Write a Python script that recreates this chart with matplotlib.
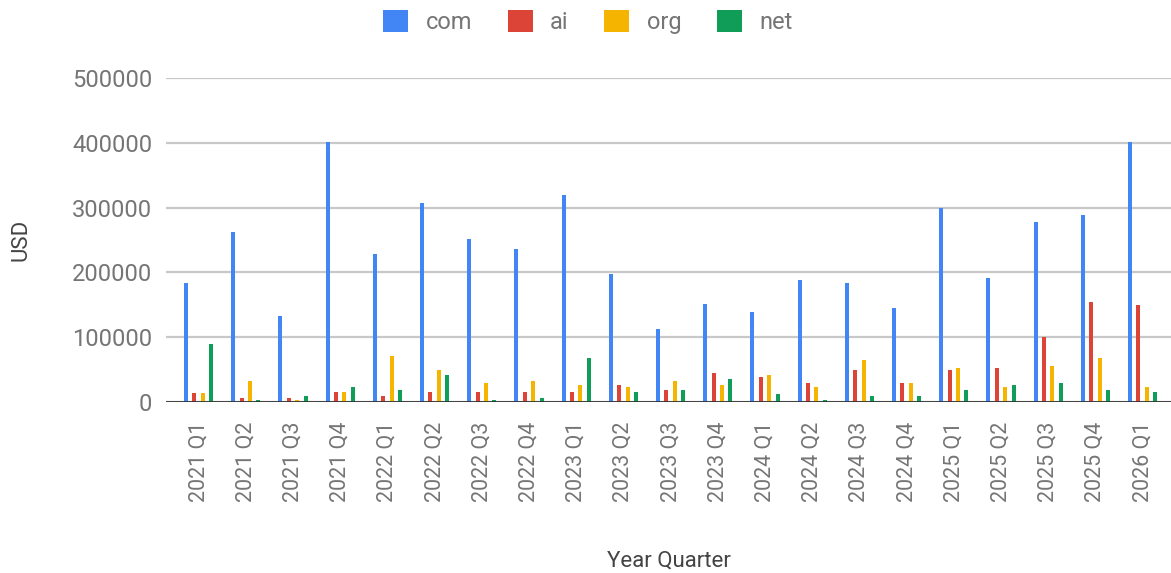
import numpy as np
import matplotlib.pyplot as plt
from matplotlib.patches import Patch

plt.rcParams['font.family'] = ['Roboto', 'DejaVu Sans']

quarters = ['2021 Q1', '2021 Q2', '2021 Q3', '2021 Q4',
            '2022 Q1', '2022 Q2', '2022 Q3', '2022 Q4',
            '2023 Q1', '2023 Q2', '2023 Q3', '2023 Q4',
            '2024 Q1', '2024 Q2', '2024 Q3', '2024 Q4',
            '2025 Q1', '2025 Q2', '2025 Q3', '2025 Q4',
            '2026 Q1']

com = [184000, 262000, 132000, 401000, 229000, 307000, 252000, 236000,
       320000, 197000, 113000, 152000, 139000, 188000, 184000, 145000,
       300000, 191000, 278000, 288000, 402000]
ai = [13500, 6000, 6000, 16000, 10000, 16000, 16000, 16000,
      16000, 26000, 19000, 45000, 39000, 29000, 49000, 29000,
      49000, 52000, 100000, 155000, 149000]
org = [13500, 32000, 3000, 16000, 71000, 49000, 29000, 32000,
       26000, 23000, 32000, 26000, 42000, 23000, 65000, 29000,
       52000, 23000, 55000, 68000, 23000]
net = [90000, 3000, 10000, 23000, 19000, 42000, 3000, 6000,
       68000, 16000, 19000, 36000, 13000, 3000, 10000, 10000,
       19000, 26000, 29000, 19000, 16000]

series = [('com', com, '#4285F4'), ('ai', ai, '#DB4437'),
          ('org', org, '#F4B400'), ('net', net, '#0F9D58')]

fig = plt.figure(figsize=(11.71, 5.73), dpi=100)
ax = fig.add_axes([166 / 1171, 1 - 402 / 573, 1 - 166 / 1171, (402 - 78) / 573])

x = np.arange(len(quarters))
step = 0.178
width = 0.085
for i, (name, vals, col) in enumerate(series):
    ax.bar(x + (i - 1.5) * step, vals, width=width, color=col, zorder=3)

ax.set_ylim(0, 500000)
ax.set_xlim(-0.69, 20.6)
ax.set_yticks(np.arange(0, 500001, 100000))
ax.yaxis.grid(True, color='#c8c8c8', linewidth=1.6, zorder=0)
ax.axhline(0, color='#333333', linewidth=2, zorder=4)
for s in ax.spines.values():
    s.set_visible(False)

ax.set_xticks(x)
ax.set_xticklabels(quarters, rotation=90, fontsize=15.5, color='#757575')
ax.tick_params(axis='x', length=0, pad=14)
ax.tick_params(axis='y', length=0, pad=10, labelsize=17, labelcolor='#757575')

ax.set_xlabel('Year Quarter', fontsize=16, color='#444444', labelpad=35)
ax.set_ylabel('USD', fontsize=16, color='#444444', labelpad=29)

handles = [Patch(facecolor=c, edgecolor='none', label=n) for n, v, c in series]
fig.legend(handles=handles, loc='center', bbox_to_anchor=(588 / 1171, 1 - 22 / 573),
           ncol=4, frameon=False, fontsize=17, labelcolor='#757575',
           handlelength=1.05, handleheight=1.05, handletextpad=0.75, columnspacing=1.5)

fig.savefig('out.png', dpi=100)
